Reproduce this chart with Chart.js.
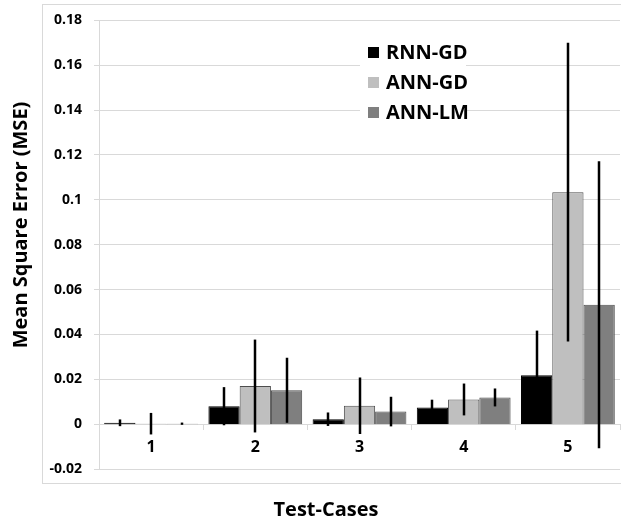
<!DOCTYPE html>
<html>
<head>
<meta charset="utf-8">
<script src="https://cdn.jsdelivr.net/npm/chart.js"></script>
<style>
  html, body { margin: 0; padding: 0; background: #fff; }
</style>
</head>
<body>
<canvas id="graficoMSE" width="621" height="523"></canvas>
<script>
// ====================
// Datos
// ====================
const casos = ["1", "2", "3", "4", "5"];
const series = ["RNN-GD", "ANN-GD", "ANN-LM"];

const mseRnnGD = [0.0006, 0.008, 0.0022, 0.0074, 0.0218];
const mseAnnGD = [0.0002, 0.0170, 0.0082, 0.0110, 0.1034];
const mseAnnLM = [0.0002, 0.0151, 0.0056, 0.0119, 0.0532];

// desviación (barra de error +/-)
const errRnnGD = [0.0015, 0.0085, 0.0030, 0.0035, 0.0199];
const errAnnGD = [0.0048, 0.0207, 0.0126, 0.0071, 0.0666];
const errAnnLM = [0.0005, 0.0145, 0.0066, 0.0040, 0.0640];

const colores = ["#000000", "#bfbfbf", "#7f7f7f"];
const fuente = "'Open Sans', Lato, sans-serif";

const errores = [errRnnGD, errAnnGD, errAnnLM];

// ====================
// Plugin: marco, barras de error, leyenda y títulos
// ====================
const adornos = {
    id: "adornos",
    beforeDraw(chart) {
        const ctx = chart.ctx;
        ctx.save();
        ctx.strokeStyle = "#d9d9d9";
        ctx.lineWidth = 1;
        ctx.strokeRect(42.5, 4.5, 640, 479);
        ctx.restore();
    },
    afterDatasetsDraw(chart) {
        const ctx = chart.ctx;
        const escalaY = chart.scales.y;
        ctx.save();
        ctx.strokeStyle = "#000";
        ctx.lineWidth = 2.5;
        chart.data.datasets.forEach((ds, i) => {
            chart.getDatasetMeta(i).data.forEach((barra, j) => {
                const v = ds.data[j], e = errores[i][j];
                const x = Math.round(barra.x);
                ctx.beginPath();
                ctx.moveTo(x, escalaY.getPixelForValue(v + e));
                ctx.lineTo(x, escalaY.getPixelForValue(v - e));
                ctx.stroke();
            });
        });
        ctx.restore();
    },
    afterDraw(chart) {
        const ctx = chart.ctx;
        ctx.save();
        // leyenda
        ctx.fillStyle = "#fff";
        ctx.fillRect(360, 36, 106, 90);
        series.forEach((nombre, i) => {
            const y = 52 + i * 30;
            ctx.fillStyle = colores[i];
            ctx.fillRect(368, y - 5, 11, 11);
            ctx.fillStyle = "#000";
            ctx.font = "bold 20px " + fuente;
            ctx.textBaseline = "middle";
            ctx.textAlign = "left";
            ctx.fillText(nombre, 386, y + 1);
        });
        // títulos de ejes
        ctx.fillStyle = "#000";
        ctx.textAlign = "center";
        ctx.textBaseline = "middle";
        ctx.font = "bold 20px " + fuente;
        ctx.fillText("Test-Cases", 326, 510);
        ctx.translate(21, 225);
        ctx.rotate(-Math.PI / 2);
        ctx.font = "bold 20px " + fuente;
        ctx.fillText("Mean Square Error (MSE)", 0, 0);
        ctx.restore();
    }
};

// ====================
// Gráfico de Barras
// ====================
const ctxMSE = document.getElementById("graficoMSE");
new Chart(ctxMSE, {
    type: "bar",
    data: {
        labels: casos,
        datasets: [
            { label: series[0], data: mseRnnGD, backgroundColor: colores[0], borderColor: "#000", borderWidth: 1 },
            { label: series[1], data: mseAnnGD, backgroundColor: colores[1], borderColor: "#4d4d4d", borderWidth: 1 },
            { label: series[2], data: mseAnnLM, backgroundColor: colores[2], borderColor: "#4d4d4d", borderWidth: 1 }
        ]
    },
    options: {
        responsive: false,
        animation: false,
        layout: { padding: { left: 42, top: 17, right: 1, bottom: 54 } },
        datasets: { bar: { categoryPercentage: 0.9, barPercentage: 1.0 } },
        plugins: {
            legend: { display: false },
            tooltip: { enabled: false }
        },
        scales: {
            x: {
                position: { y: 0 },
                grid: { offset: true, drawOnChartArea: false, drawTicks: true, tickLength: 5, color: "#d9d9d9" },
                border: { color: "#d9d9d9" },
                ticks: { color: "#000", padding: 9, font: { family: fuente, size: 16, weight: "bold" } }
            },
            y: {
                min: -0.02,
                max: 0.18,
                afterFit(escala) { escala.width = 57; },
                grid: { color: "#d9d9d9", tickLength: 5 },
                border: { color: "#d9d9d9" },
                ticks: {
                    stepSize: 0.02,
                    color: "#000",
                    padding: 12,
                    font: { family: fuente, size: 14, weight: "bold" },
                    callback: (v) => String(Number(v.toFixed(2)))
                }
            }
        }
    },
    plugins: [adornos]
});
</script>
</body>
</html>
